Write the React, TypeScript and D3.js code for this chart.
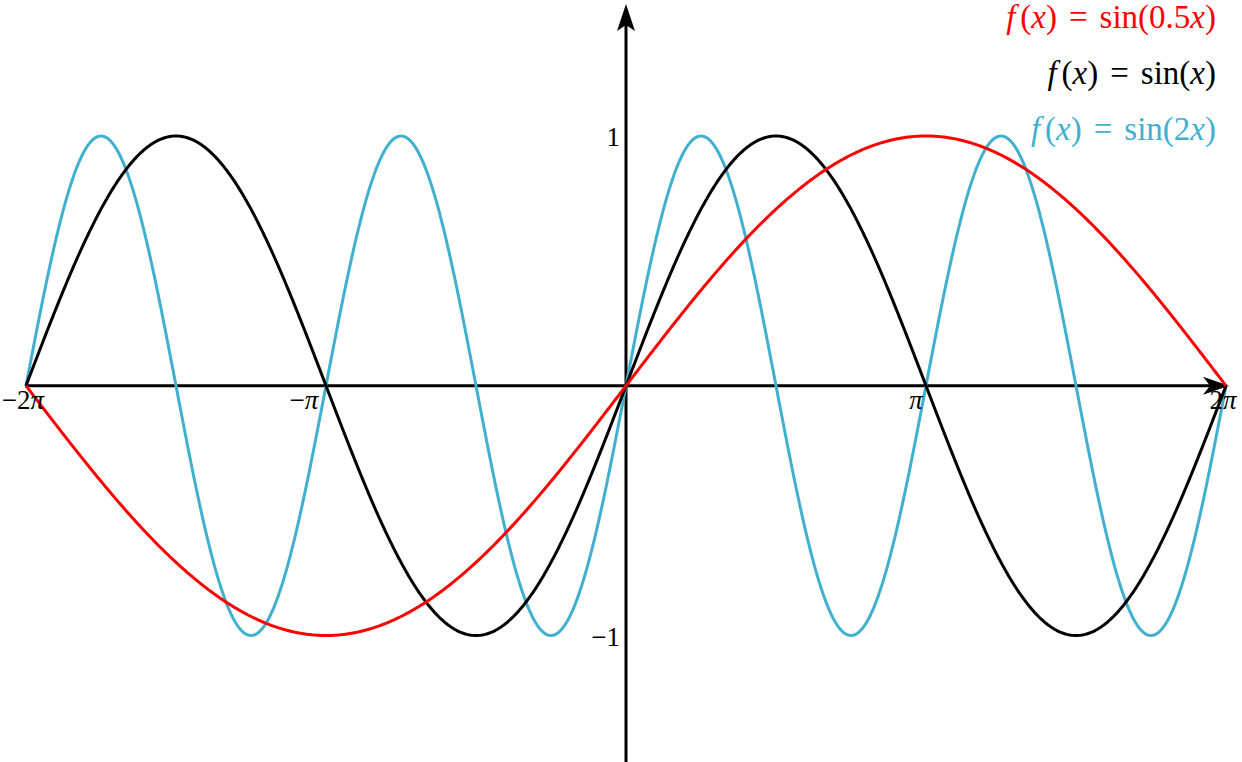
import React from "react";
import * as d3 from "d3";

// Functions plotted: f(x) = sin(k x), defined by the legend labels
const seriesNames = ["sin(0.5x)", "sin(x)", "sin(2x)"];
const frequencies = [0.5, 1, 2];
const seriesColors = ["#ff0000", "#000000", "#41b0cf"];
const drawOrder = [2, 1, 0];
const xTickValues = [-2 * Math.PI, -Math.PI, Math.PI, 2 * Math.PI];
const xTickPrefix = ["−2", "−", "", "2"];
const yTickValues = [1, -1];
const yTickLabels = ["1", "−1"];

const W = 1242;
const H = 762;

const xScale = d3.scaleLinear().domain([-2 * Math.PI, 2 * Math.PI]).range([26, 1226]);
const yScale = d3.scaleLinear().domain([-1, 1]).range([635.5, 136]);

const samples = d3.range(0, 801).map((i) => -2 * Math.PI + (4 * Math.PI * i) / 800);

const line = d3
  .line<[number, number]>()
  .x((d) => xScale(d[0]))
  .y((d) => yScale(d[1]))
  .curve(d3.curveLinear);

const xLabelDx = [-3, -22, -10, -3];

function Label({ k }: { k: number }) {
  const kText = k === 1 ? "" : String(k);
  return (
    <>
      <tspan fontStyle="italic">f</tspan>
      <tspan dx="5">(</tspan>
      <tspan fontStyle="italic">x</tspan>
      <tspan>)</tspan>
      <tspan dx="12">=</tspan>
      <tspan dx="12">sin(</tspan>
      {kText && <tspan>{kText}</tspan>}
      <tspan fontStyle="italic">x</tspan>
      <tspan>)</tspan>
    </>
  );
}

export default function App() {
  const x0 = xScale(0);
  const y0 = yScale(0);
  const font = "'Liberation Serif', 'DejaVu Serif', serif";
  return (
    <svg
      width={W}
      height={H}
      style={{ position: "fixed", left: 0, top: 0, background: "#fff" }}
      fontFamily={font}
    >
      {/* axes */}
      <line x1={xScale(-2 * Math.PI) - 1} y1={y0} x2={1210} y2={y0} stroke="#000" strokeWidth={3} />
      <path
        d={`M${1229},${y0} L${1203},${y0 - 9} L${1210},${y0} L${1203},${y0 + 9} Z`}
        fill="#000"
      />
      <line x1={x0} y1={H} x2={x0} y2={25} stroke="#000" strokeWidth={3} />
      <path d={`M${x0},${4} L${x0 - 9},${31} L${x0},${25} L${x0 + 9},${31} Z`} fill="#000" />

      {/* curves */}
      {drawOrder.map((i) => (
        <path
          key={seriesNames[i]}
          d={line(samples.map((x) => [x, Math.sin(frequencies[i] * x)]) as [number, number][]) || ""}
          fill="none"
          stroke={seriesColors[i]}
          strokeWidth={3}
          strokeLinejoin="round"
        />
      ))}

      {/* x tick labels */}
      {xTickValues.map((v, i) => (
        <text
          key={"xt" + i}
          x={xScale(v) + xLabelDx[i]}
          y={y0 + 23}
          textAnchor="middle"
          fontSize={27}
        >
          {xTickPrefix[i]}
          <tspan fontStyle="italic">π</tspan>
        </text>
      ))}

      {/* y tick labels */}
      {yTickValues.map((v, i) => (
        <text key={"yt" + i} x={x0 - 6} y={yScale(v) + 10} textAnchor="end" fontSize={27}>
          {yTickLabels[i]}
        </text>
      ))}

      {/* legend */}
      {frequencies.map((k, i) => (
        <text
          key={"lg" + i}
          x={1216}
          y={28 + i * 56}
          textAnchor="end"
          fontSize={33}
          fill={seriesColors[i]}
        >
          <Label k={k} />
        </text>
      ))}
    </svg>
  );
}
